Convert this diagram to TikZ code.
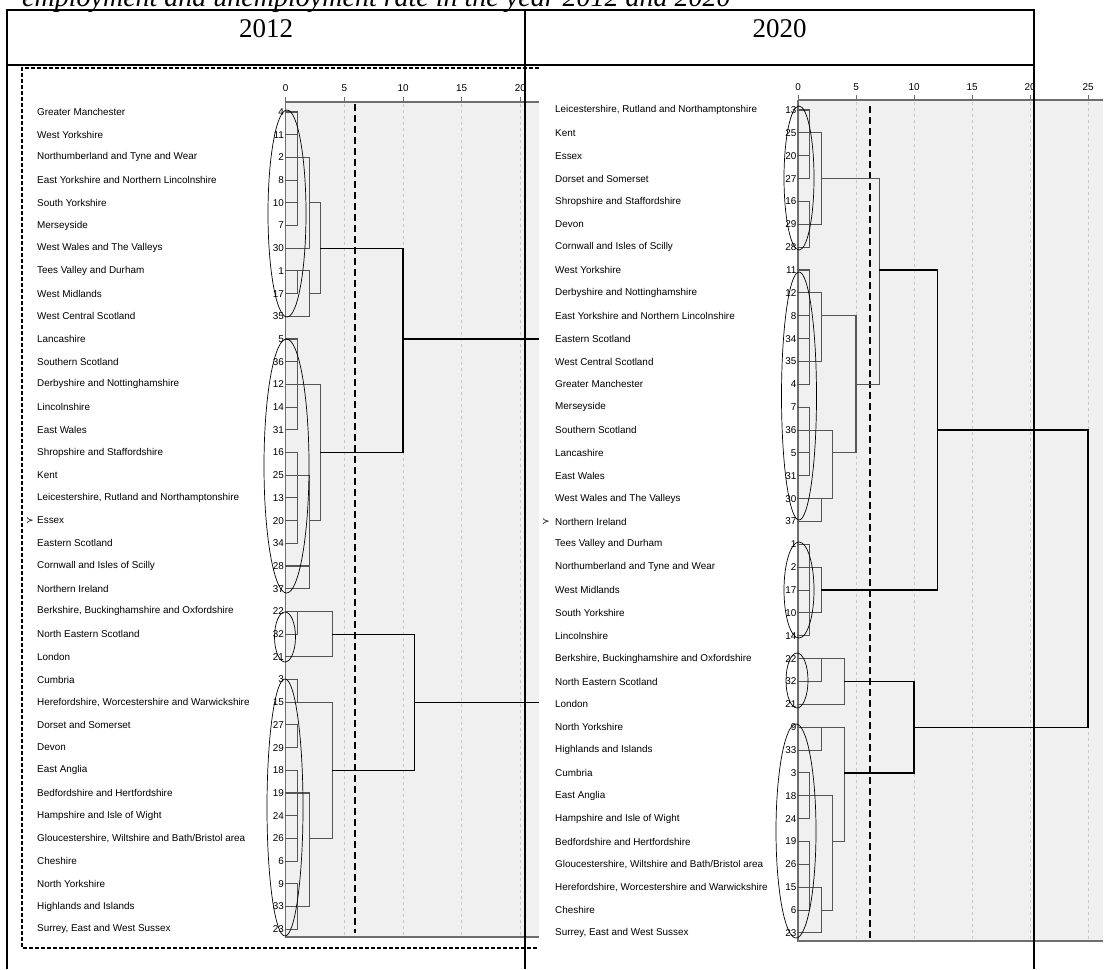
\documentclass[tikz,border=0pt]{standalone}
\usepackage{fontspec}
\setmainfont{Liberation Serif}
\newfontfamily\labfont{Liberation Sans}
\newfontfamily\symfont{DejaVu Sans}
\definecolor{plotbg}{HTML}{F0F0F0}
\definecolor{axisgray}{HTML}{6E6E6E}
\definecolor{gridgray}{HTML}{C8C8C8}
\definecolor{dgline}{HTML}{555555}
\tikzset{
  dl/.style={draw=dgline, line width=1.05pt, line cap=rect},
  dk/.style={draw=black, line width=1.2pt, line cap=rect},
  lab/.style={font=\labfont\fontsize{9.9}{11}\selectfont, inner sep=0pt},
  num/.style={lab, anchor=east},
  gridln/.style={draw=gridgray, line width=0.8pt, dash pattern=on 3pt off 3pt},
  cutln/.style={draw=black, line width=2.4pt, dash pattern=on 7pt off 4pt},
  axisl/.style={draw=axisgray, line width=1.8pt},
  axisthin/.style={draw=axisgray, line width=1.2pt},
  clus/.style={draw=black, line width=0.7pt},
  tbl/.style={draw=black, line width=1.8pt},
  boxdash/.style={draw=black, line width=1.4pt, dash pattern=on 4pt off 2pt},
  marker/.style={font=\symfont\fontsize{9}{9}\selectfont, inner sep=0pt},
}
\newcommand\dgH[4][dl]{\draw[#1] ({\dX+#3*\dU},{\dY+#2*\dD}) -- ({\dX+#4*\dU},{\dY+#2*\dD});}
\newcommand\dgV[4][dl]{\draw[#1] ({\dX+#2*\dU},{\dY+#3*\dD}) -- ({\dX+#2*\dU},{\dY+#4*\dD});}
\begin{document}
\begin{tikzpicture}[x=1pt,y=-1pt]
\useasboundingbox (0,0) rectangle (1110,969);
\fill[white] (0,0) rectangle (1110,969);

% ================= 2012 panel =================
\def\dX{285.7}\def\dU{11.73}\def\dY{112}\def\dD{22.7}
\fill[plotbg] (285.7,102) rectangle (539,937);
\foreach \t in {5,10,15,20} \draw[gridln] ({\dX+\t*\dU},104) -- ({\dX+\t*\dU},936);
\draw[axisl] (285.7,102) -- (539,102);
\draw[axisthin] (285.7,102) -- (285.7,937) -- (539,937);
\foreach \t in {0,5,10,15,20} {
  \draw[axisgray, line width=1pt] ({\dX+\t*\dU},97) -- ({\dX+\t*\dU},102);
  \node[lab] (ta\t) at ({\dX+\t*\dU},88) {\t};
}
\draw[cutln] (355,104) -- (355,933);

% cluster A
\dgH{0}{0}{1}\dgH{1}{0}{1}\dgH{2}{0}{2}\dgH{3}{0}{1}\dgH{4}{0}{1}\dgH{5}{0}{1}\dgV{1}{0}{5}
\dgH{6}{0}{2}\dgV{2}{2}{6}\dgH{4}{2}{3}
\dgH{7}{0}{2}\dgH{8}{0}{1}\dgV{1}{7}{8}\dgH{9}{0}{2}\dgV{2}{7}{9}\dgH{8}{2}{3}
\dgV{3}{4}{8}
\dgH[dk]{6}{3}{10}
% cluster B
\dgH{10}{0}{1}\dgH{11}{0}{1}\dgH{12}{0}{3}\dgH{13}{0}{1}\dgH{14}{0}{1}\dgV{1}{10}{14}
\dgH{15}{0}{1}\dgH{16}{0}{2}\dgH{17}{0}{1}\dgH{18}{0}{1}\dgH{19}{0}{1}\dgV{1}{15}{19}
\dgH{20}{0}{2}\dgH{21}{0}{2}\dgV{2}{16}{21}
\dgH{18}{2}{3}\dgV{3}{12}{18}
\dgH[dk]{15}{3}{10}
\dgV[dk]{10}{6}{15}
\dgH[dk]{10}{10}{21.7}
% cluster C
\dgH{22}{0}{4}\dgH{23}{0}{1}\dgV{1}{22}{23}\dgH{24}{0}{4}\dgV{4}{22}{24}
\dgH[dk]{23}{4}{11}
% cluster D
\dgH{25}{0}{1}\dgH{26}{0}{4}\dgV{1}{25}{26}
\dgH{27}{0}{1}\dgH{28}{0}{1}\dgV{1}{27}{28}
\dgH{29}{0}{1}\dgH{30}{0}{2}\dgH{31}{0}{1}\dgH{32}{0}{1}\dgH{33}{0}{1}\dgV{1}{29}{33}
\dgH{34}{0}{1}\dgH{35}{0}{2}\dgH{36}{0}{1}\dgV{1}{34}{36}
\dgV{2}{30}{35}\dgH{32}{2}{4}
\dgV{4}{26}{32}
\dgH[dk]{29}{4}{11}
\dgV[dk]{11}{23}{29}
\dgH[dk]{26}{11}{21.7}

\foreach \n/\k [count=\i from 0] in {
 {Greater Manchester}/4, {West Yorkshire}/11, {Northumberland and Tyne and Wear}/2,
 {East Yorkshire and Northern Lincolnshire}/8, {South Yorkshire}/10, {Merseyside}/7,
 {West Wales and The Valleys}/30, {Tees Valley and Durham}/1, {West Midlands}/17,
 {West Central Scotland}/35, {Lancashire}/5, {Southern Scotland}/36,
 {Derbyshire and Nottinghamshire}/12, {Lincolnshire}/14, {East Wales}/31,
 {Shropshire and Staffordshire}/16, {Kent}/25, {Leicestershire, Rutland and Northamptonshire}/13,
 {Essex}/20, {Eastern Scotland}/34, {Cornwall and Isles of Scilly}/28, {Northern Ireland}/37,
 {Berkshire, Buckinghamshire and Oxfordshire}/22, {North Eastern Scotland}/32, {London}/21,
 {Cumbria}/3, {Herefordshire, Worcestershire and Warwickshire}/15, {Dorset and Somerset}/27,
 {Devon}/29, {East Anglia}/18, {Bedfordshire and Hertfordshire}/19,
 {Hampshire and Isle of Wight}/24, {Gloucestershire, Wiltshire and Bath/Bristol area}/26,
 {Cheshire}/6, {North Yorkshire}/9, {Highlands and Islands}/33, {Surrey, East and West Sussex}/23} {
  \node[lab, anchor=west] (a\i) at (37,{\dY+\i*\dD}) {\n};
  \node[num] (an\i) at ({\dX-1.5},{\dY+\i*\dD}) {\k};
}
\node[marker] (ma) at (30,{\dY+18*\dD}) {≻};

\draw[clus] (287,213.5) ellipse [x radius=19, y radius=103.5];
\draw[clus] (286.5,466) ellipse [x radius=22.5, y radius=127];
\draw[clus] (285,637) ellipse [x radius=10.5, y radius=25];
\draw[clus] (285,807.5) ellipse [x radius=18, y radius=128.5];

\draw[boxdash] (539,68) -- (22,68) -- (22,948) -- (539,948);

% ================= 2020 panel =================
\fill[white] (539,66) rectangle (1110,969);
\def\dX{798}\def\dU{11.6}\def\dY{110}\def\dD{22.86}
\fill[plotbg] (798,100) rectangle (1103,941);
\foreach \t in {5,10,15,20,25} \draw[gridln] ({\dX+\t*\dU},102) -- ({\dX+\t*\dU},940);
\draw[axisl] (798,100) -- (1103,100);
\draw[axisthin] (798,100) -- (798,941) -- (1103,941);
\foreach \t in {0,5,10,15,20,25} {
  \draw[axisgray, line width=1pt] ({\dX+\t*\dU},95) -- ({\dX+\t*\dU},100);
  \node[lab] (tb\t) at ({\dX+\t*\dU},87) {\t};
}
\draw[cutln] (870,106) -- (870,939);

% cluster P
\dgH{0}{0}{1}\dgH{1}{0}{2}\dgH{2}{0}{1}\dgH{3}{0}{1}\dgV{1}{0}{3}
\dgH{4}{0}{1}\dgH{5}{0}{2}\dgH{6}{0}{1}\dgV{1}{4}{6}
\dgV{2}{1}{5}\dgH{3}{2}{7}
% cluster Q
\dgH{7}{0}{1}\dgH{8}{0}{2}\dgH{9}{0}{1}\dgH{10}{0}{1}\dgH{11}{0}{2}\dgH{12}{0}{1}\dgV{1}{7}{12}
\dgV{2}{8}{11}\dgH{9}{2}{5}
\dgH{13}{0}{1}\dgH{14}{0}{3}\dgH{15}{0}{1}\dgH{16}{0}{1}\dgV{1}{13}{16}
\dgH{17}{0}{3}\dgH{18}{0}{2}\dgV{2}{17}{18}
\dgV{3}{14}{17}\dgH{15}{3}{5}
\dgV{5}{9}{15}\dgH{12}{5}{7}
\dgV{7}{3}{12}
\dgH[dk]{7}{7}{12}
% cluster R
\dgH{19}{0}{1}\dgH{20}{0}{2}\dgH{21}{0}{1}\dgH{22}{0}{2}\dgH{23}{0}{1}\dgV{1}{19}{23}
\dgV{2}{20}{22}\dgH[dk]{21}{2}{12}
\dgV[dk]{12}{7}{21}
\dgH[dk]{14}{12}{25}
% cluster S
\dgH{24}{0}{4}\dgH{25}{0}{2}\dgV{2}{24}{25}\dgH{26}{0}{4}\dgV{4}{24}{26}
\dgH[dk]{25}{4}{10}
% cluster T
\dgH{27}{0}{4}\dgH{28}{0}{2}\dgV{2}{27}{28}
\dgH{29}{0}{1}\dgH{30}{0}{3}\dgH{31}{0}{1}\dgV{1}{29}{31}
\dgH{32}{0}{1}\dgH{33}{0}{1}\dgH{34}{0}{2}\dgH{35}{0}{1}\dgV{1}{32}{35}
\dgH{36}{0}{2}\dgV{2}{34}{36}
\dgH{35}{2}{3}\dgV{3}{30}{35}
\dgH{32}{3}{4}\dgV{4}{27}{32}
\dgH[dk]{29}{4}{10}
\dgV[dk]{10}{25}{29}
\dgH[dk]{27}{10}{25}
\dgV[dk]{25}{14}{27}

\foreach \n/\k [count=\i from 0] in {
 {Leicestershire, Rutland and Northamptonshire}/13, {Kent}/25, {Essex}/20,
 {Dorset and Somerset}/27, {Shropshire and Staffordshire}/16, {Devon}/29,
 {Cornwall and Isles of Scilly}/28, {West Yorkshire}/11, {Derbyshire and Nottinghamshire}/12,
 {East Yorkshire and Northern Lincolnshire}/8, {Eastern Scotland}/34, {West Central Scotland}/35,
 {Greater Manchester}/4, {Merseyside}/7, {Southern Scotland}/36, {Lancashire}/5,
 {East Wales}/31, {West Wales and The Valleys}/30, {Northern Ireland}/37,
 {Tees Valley and Durham}/1, {Northumberland and Tyne and Wear}/2, {West Midlands}/17,
 {South Yorkshire}/10, {Lincolnshire}/14, {Berkshire, Buckinghamshire and Oxfordshire}/22,
 {North Eastern Scotland}/32, {London}/21, {North Yorkshire}/9, {Highlands and Islands}/33,
 {Cumbria}/3, {East Anglia}/18, {Hampshire and Isle of Wight}/24,
 {Bedfordshire and Hertfordshire}/19, {Gloucestershire, Wiltshire and Bath/Bristol area}/26,
 {Herefordshire, Worcestershire and Warwickshire}/15, {Cheshire}/6, {Surrey, East and West Sussex}/23} {
  \node[lab, anchor=west] (b\i) at (555,{\dY+\i*\dD}) {\n};
  \node[num] (bn\i) at ({\dX-1.5},{\dY+\i*\dD}) {\k};
}
\node[marker] (mb) at (546,{\dY+18*\dD}) {≻};

\draw[clus] (799,178) ellipse [x radius=15, y radius=72];
\draw[clus] (799,396) ellipse [x radius=17.5, y radius=124];
\draw[clus] (799,590) ellipse [x radius=15, y radius=48];
\draw[clus] (797,680.5) ellipse [x radius=11, y radius=27.5];
\draw[clus] (796,831) ellipse [x radius=20, y radius=107];

% ================= table & titles =================
\node[font=\itshape\fontsize{28}{30}\selectfont, anchor=base west, inner sep=0pt] (title) at (22,6)
  {employment and unemployment rate in the year 2012 and 2020};
\draw[tbl] (7,10) -- (1034,10);
\draw[tbl] (7,65) -- (1034,65);
\draw[tbl] (7,9) -- (7,969);
\draw[tbl] (525,9) -- (525,969);
\draw[tbl] (1034,9) -- (1034,969);
\node[font=\fontsize{27}{30}\selectfont, anchor=base, inner sep=0pt] (h12) at (266,37) {2012};
\node[font=\fontsize{27}{30}\selectfont, anchor=base, inner sep=0pt] (h20) at (779.5,37) {2020};
\end{tikzpicture}
\end{document}
